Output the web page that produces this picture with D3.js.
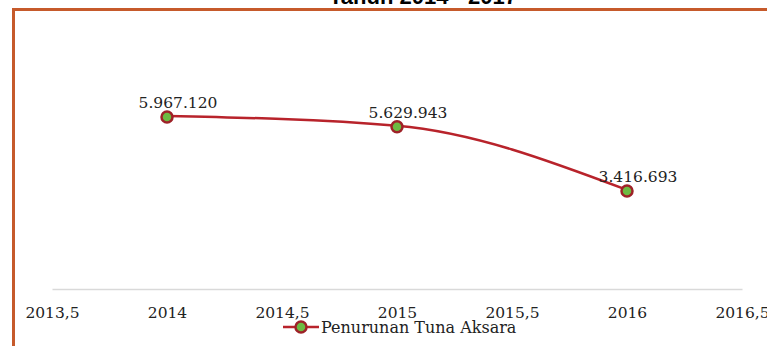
<!DOCTYPE html>
<html>
<head>
<meta charset="utf-8">
<script src="https://cdn.jsdelivr.net/npm/d3@7"></script>
<style>
  body { margin: 0; background: #fff; }
  svg { display: block; }
</style>
</head>
<body>
<svg id="chart" width="767" height="346"></svg>
<script>
// data
var years = [2014, 2015, 2016];
var values = [5967120, 5629943, 3416693];
var xTicks = [2013.5, 2014, 2014.5, 2015, 2015.5, 2016, 2016.5];
var title = "Tahun 2014 - 2017";
var seriesName = "Penurunan Tuna Aksara";

var svg = d3.select("#chart");
var serif = "'DejaVu Serif', serif";
var lineColor = "#b8232b";
var dotColor = "#6cbb42";

// scales
var x = d3.scaleLinear().domain([2013.5, 2016.5]).range([52, 742]);
var y = d3.scaleLinear().domain([0, 7000000]).range([289, 86]);

// frame (only top and left edges fall inside the picture)
svg.append("rect")
    .attr("x", 13.5).attr("y", 9.5)
    .attr("width", 900).attr("height", 500)
    .attr("fill", "none")
    .attr("stroke", "#c65a2b")
    .attr("stroke-width", 3);

// title (cut off at top)
svg.append("text")
    .attr("x", 423).attr("y", 4)
    .attr("text-anchor", "middle")
    .style("font-family", "'Liberation Sans', Arial, sans-serif")
    .style("font-weight", "bold")
    .style("font-size", "22px")
    .text(title);

// x axis
var xAxis = svg.append("g")
    .attr("transform", "translate(0," + y(0) + ")")
    .call(d3.axisBottom(x).tickValues(xTicks).tickSize(0).tickPadding(18)
        .tickFormat(function (d) { return String(d).replace(".", ","); }));
xAxis.select(".domain").attr("stroke", "#d9d9d9").attr("stroke-width", 1.5);
xAxis.selectAll("text")
    .style("font-family", serif)
    .style("font-size", "15.5px")
    .attr("fill", "#222");

var pts = years.map(function (d, i) { return {yr: d, v: values[i]}; });

// line
var line = d3.line()
    .x(function (d) { return x(d.yr); })
    .y(function (d) { return y(d.v); })
    .curve(d3.curveMonotoneX);

svg.append("path")
    .datum(pts)
    .attr("d", line)
    .attr("fill", "none")
    .attr("stroke", lineColor)
    .attr("stroke-width", 2.5);

svg.selectAll(".dot")
    .data(pts)
    .enter().append("circle")
    .attr("class", "dot")
    .attr("cx", function (d) { return x(d.yr); })
    .attr("cy", function (d) { return y(d.v) + 1; })
    .attr("r", 5.5)
    .attr("fill", dotColor)
    .attr("stroke", "#9e2228")
    .attr("stroke-width", 2.5);

// value labels
var fmt = function (v) { return d3.format(",")(v).replace(/,/g, "."); };
svg.selectAll(".lbl")
    .data(pts)
    .enter().append("text")
    .attr("class", "lbl")
    .attr("x", function (d) { return x(d.yr) + 11; })
    .attr("y", function (d) { return y(d.v) - 8; })
    .attr("text-anchor", "middle")
    .style("font-family", serif)
    .style("font-size", "15.5px")
    .attr("fill", "#222")
    .text(function (d) { return fmt(d.v); });

// legend
var lg = svg.append("g").attr("transform", "translate(283,327)");
lg.append("line")
    .attr("x1", 0).attr("x2", 36)
    .attr("stroke", lineColor).attr("stroke-width", 2.5);
lg.append("circle")
    .attr("cx", 18).attr("r", 5.5)
    .attr("fill", dotColor)
    .attr("stroke", "#9e2228").attr("stroke-width", 2.5);
lg.append("text")
    .attr("x", 38).attr("y", 6)
    .style("font-family", serif)
    .style("font-size", "16px")
    .attr("fill", "#222")
    .text(seriesName);
</script>
</body>
</html>
